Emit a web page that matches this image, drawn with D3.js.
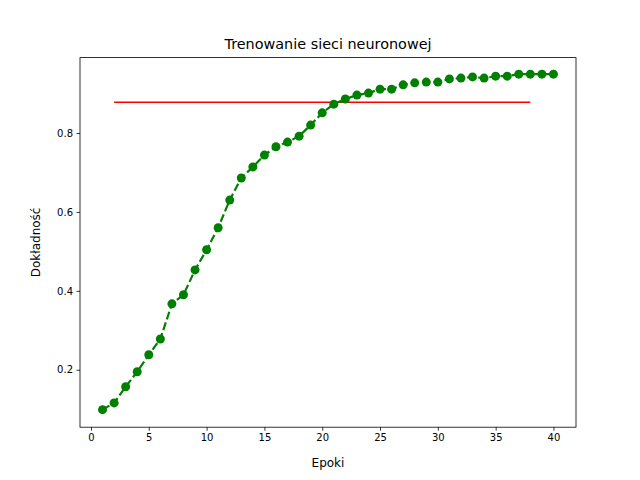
<!DOCTYPE html>
<html>
<head>
<meta charset="utf-8">
<script src="https://cdn.jsdelivr.net/npm/d3@7"></script>
<style>
  body { margin: 0; background: #fff; }
  text { font-family: "DejaVu Sans", sans-serif; }
</style>
</head>
<body>
<script>
const epochs = d3.range(1, 41)
const accuracy = [0.099, 0.116, 0.157, 0.195, 0.238, 0.278, 0.367, 0.390, 0.453, 0.504,
  0.560, 0.630, 0.686, 0.714, 0.744, 0.765, 0.777, 0.792, 0.820, 0.851,
  0.873, 0.886, 0.896, 0.901, 0.911, 0.911, 0.922, 0.927, 0.929, 0.929,
  0.937, 0.939, 0.942, 0.939, 0.944, 0.944, 0.949, 0.949, 0.949, 0.949]
const threshold = 0.878
const thresholdRange = [2, 38]
const xTicks = [0, 5, 10, 15, 20, 25, 30, 35, 40]
const yTicks = [0.2, 0.4, 0.6, 0.8]

const svgWidth = 640
const svgHeight = 480
const margin = { top: 57.6, right: 64, bottom: 52.8, left: 80 }
const chartWidth = svgWidth - margin.left - margin.right
const chartHeight = svgHeight - margin.top - margin.bottom

const svg = d3.select("body").append("svg")
  .attr("width", svgWidth)
  .attr("height", svgHeight)

const chartG = svg.append("g")
  .attr("transform", `translate(${margin.left}, ${margin.top})`)

const x = d3.scaleLinear().domain([-0.95, 41.95]).range([0, chartWidth])
const y = d3.scaleLinear().domain([0.0545, 0.991]).range([chartHeight, 0])

const xAxis = chartG.append("g")
  .attr("transform", `translate(0, ${chartHeight})`)
  .call(d3.axisBottom(x).tickValues(xTicks).tickSize(3.5).tickPadding(3.5))
const yAxis = chartG.append("g")
  .call(d3.axisLeft(y).tickValues(yTicks).tickSize(3.5).tickPadding(3.5).tickFormat(d3.format(".1f")))

;[xAxis, yAxis].forEach(a => {
  a.select(".domain").remove()
  a.selectAll("text").attr("font-size", 10).attr("fill", "#000")
  a.selectAll("line").attr("stroke", "#000").attr("stroke-width", 0.8)
})

chartG.append("rect")
  .attr("width", chartWidth).attr("height", chartHeight)
  .attr("fill", "none").attr("stroke", "#000").attr("stroke-width", 0.8)

chartG.append("line")
  .attr("x1", x(thresholdRange[0])).attr("x2", x(thresholdRange[1]))
  .attr("y1", y(threshold)).attr("y2", y(threshold))
  .attr("stroke", "red").attr("stroke-width", 1.5)

const line = d3.line().x((d, i) => x(epochs[i])).y(d => y(d))
chartG.append("path")
  .datum(accuracy)
  .attr("d", line)
  .attr("fill", "none").attr("stroke", "green")
  .attr("stroke-width", 2.2).attr("stroke-dasharray", "8,3.3")

chartG.selectAll("circle")
  .data(accuracy)
  .enter()
  .append("circle")
  .attr("cx", (d, i) => x(epochs[i]))
  .attr("cy", d => y(d))
  .attr("r", 4.5)
  .attr("fill", "green")

svg.append("text")
  .attr("x", margin.left + chartWidth / 2).attr("y", margin.top - 9)
  .attr("text-anchor", "middle").attr("font-size", 14.4)
  .text("Trenowanie sieci neuronowej")

svg.append("text")
  .attr("x", margin.left + chartWidth / 2).attr("y", 467)
  .attr("text-anchor", "middle").attr("font-size", 12)
  .text("Epoki")

svg.append("text")
  .attr("transform", `translate(40, ${margin.top + chartHeight / 2}) rotate(-90)`)
  .attr("text-anchor", "middle").attr("font-size", 12)
  .text("Dokładność")
</script>
</body>
</html>
